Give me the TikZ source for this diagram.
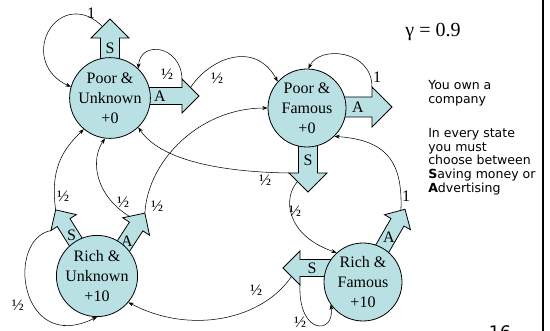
\documentclass[tikz,border=0pt]{standalone}
\usepackage{fontspec}
\setmainfont{Liberation Serif}
\newfontfamily\notefont{DejaVu Sans}
\usetikzlibrary{arrows.meta,calc}
\definecolor{statefill}{RGB}{185,225,228}

\tikzset{
  state/.style={circle, draw, line width=0.6pt, fill=statefill, minimum size=58.5pt,
    inner sep=0pt, align=center, font=\fontsize{12}{15}\selectfont},
  act/.style={draw, line width=0.6pt, fill=statefill},
  trans/.style={-{Stealth[length=4pt,width=3pt]}, line width=0.4pt},
  prob/.style={inner sep=0.5pt, font=\fontsize{12}{14}\selectfont},
  note/.style={anchor=north west, inner sep=0pt, align=left,
    font=\notefont\fontsize{9.4}{10.3}\selectfont},
}

% block arrow: #1 name, #2 base, #3 angle, #4 length, #5 head half width, #6 label distance, #7 label
\newcommand{\actarrow}[7]{%
  \begin{scope}[shift={#2}, rotate=#3]
    \draw[act] (0,-#5/2) -- (#4-#5,-#5/2) -- (#4-#5,-#5) -- (#4,0) -- (#4-#5,#5)
      -- (#4-#5,#5/2) -- (0,#5/2) -- cycle;
    \coordinate (#1-tip) at (#4,0);
    \coordinate (#1-l) at (#4-#5,-#5);
    \coordinate (#1-r) at (#4-#5,#5);
    \node[inner sep=0pt, font=\fontsize{12}{14}\selectfont] (#1-lab) at (#6,0) {#7};
  \end{scope}}

\begin{document}
\begin{tikzpicture}[x=0.75pt, y=-0.75pt]
  \useasboundingbox (0,0) rectangle (550,331);

  % actions
  \actarrow{puS}{(110,98)}{90}{79}{19}{50}{S}
  \actarrow{puA}{(110,96)}{0}{89}{17}{50}{A}
  \actarrow{pfA}{(307,107)}{0}{85}{20}{51}{A}
  \actarrow{pfS}{(308,108)}{-90}{84}{19}{52}{S}
  \actarrow{rfA}{(363,282)}{60}{84}{15}{52}{A}
  \actarrow{rfS}{(363,268)}{180}{80}{17}{51}{S}
  \actarrow{ruS}{(97,276)}{122}{78}{15}{48}{S}
  \actarrow{ruA}{(104,276)}{57}{75}{16}{42}{A}

  % states
  \node[state] (pu) at (110,98) {Poor \&\\Unknown\\+0};
  \node[state] (pf) at (307,108) {Poor \&\\Famous\\+0};
  \node[state] (ru) at (97,276) {Rich \&\\Unknown\\+10};
  \node[state] (rf) at (363,282) {Rich \&\\Famous\\+10};

  % transitions
  \draw[trans] ($(puS-l)!0.6!(puS-tip)$) .. controls (85,8) and (60,10) .. (48,32)
    .. controls (38,52) and (45,75) .. (pu.164);
  \draw[trans] (puA-l) .. controls (181,45) and (140,40) .. (pu.46);
  \draw[trans] ($(puA-l)!0.5!(puA-tip)$) .. controls (210,58) and (255,40) .. (pf.138);
  \draw[trans] (pfA-l) .. controls (372,50) and (320,45) .. (pf.88);
  \draw[trans] (pfS-r) .. controls (220,172) and (160,160) .. (pu.-46);
  \draw[trans] ($(pfS-r)!0.45!(pfS-tip)$) .. controls (283,197) and (285,235) .. (rf.132);
  \draw[trans] ($(rfA-l)!0.8!(rfA-tip)$) .. controls (403,160) and (385,140) .. (pf.-46);
  \draw[trans] ($(rfS-l)!0.5!(rfS-tip)$) .. controls (262,320) and (190,335) .. (ru.-40);
  \draw[trans] (rfS-l) .. controls (298,335) and (335,335) .. (rf.215);
  \draw[trans] (ruS-tip) .. controls (50,170) and (62,150) .. (pu.230);
  \draw[trans] (ruS-l) .. controls (5,240) and (20,355) .. (ru.270);
  \draw[trans] ($(ruA-l)!0.3!(ruA-tip)$) .. controls (95,195) and (90,160) .. (pu.263);
  \draw[trans] (ruA-tip) .. controls (148,160) and (200,108) .. (pf.180);

  % probabilities
  \node[prob] (p1) at (91,13) {1};
  \node[prob] (p2) at (167,74) {½};
  \node[prob] (p3) at (217,78) {½};
  \node[prob] (p4) at (377,77) {1};
  \node[prob] (p5) at (265,180) {½};
  \node[prob] (p6) at (295,211) {½};
  \node[prob] (p7) at (406,196) {1};
  \node[prob] (p8) at (256,290) {½};
  \node[prob] (p9) at (300,322) {½};
  \node[prob] (p10) at (63,196) {½};
  \node[prob] (p11) at (18,305) {½};
  \node[prob] (p12) at (123,202) {½};
  \node[prob] (p13) at (157,206) {½};

  % notes
  \node[font=\fontsize{15}{18}\selectfont] (gamma) at (433,32) {γ = 0.9};
  \node[note] (own) at (428,80) {You own a\\company};
  \node[note] (every) at (428,128)
    {In every state\\you must\\choose between\\\textbf{S}aving money or\\\textbf{A}dvertising};
  \node[anchor=north, inner sep=0pt, font=\notefont\fontsize{13}{15}\selectfont] (page) at (500,325.5) {16};
  \draw[line width=2.2pt] (543,0) -- (543,331);
\end{tikzpicture}
\end{document}
